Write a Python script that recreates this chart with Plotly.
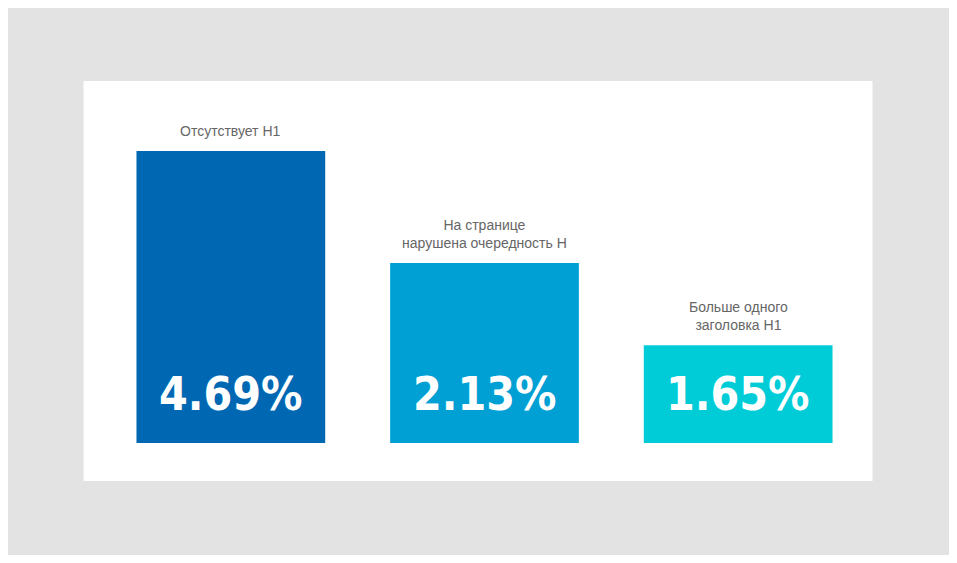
import plotly.graph_objects as go

# Categories, labels and values
categories = ["Отсутствует H1", "На странице<br>нарушена очередность H", "Больше одного<br>заголовка H1"]
value_labels = ["4.69%", "2.13%", "1.65%"]
# bar heights as drawn in the picture (not proportional to labels)
bar_heights = [4.69, 2.89, 1.57]
colors = ["#0068b3", "#00a0d5", "#00ccd8"]

x = list(range(len(categories)))

W, H = 941, 547
L, T, PW, PH = 95.5, 73, 762, 362

fig = go.Figure(go.Bar(
    x=x, y=bar_heights, marker_color=colors, marker_line_width=0,
    hoverinfo="skip",
))

# category labels above bars
for xi, h, cat in zip(x, bar_heights, categories):
    fig.add_annotation(x=xi, y=h, text=cat, showarrow=False, yanchor="bottom",
                       yshift=10, font=dict(family="Arial, Liberation Sans", size=14, color="#666666"))

# value labels inside bars
for xi, lab in zip(x, value_labels):
    fig.add_annotation(x=xi, y=0, text="<b>" + lab + "</b>", showarrow=False, yanchor="bottom",
                       yshift=20, font=dict(family="DejaVu Sans Condensed, Arial Narrow",
                                            size=46, color="white"))

# white panel (page offset 8px)
fig.add_shape(type="rect", xref="paper", yref="paper", layer="below",
              x0=(75 - L) / PW, x1=(865 - L) / PW,
              y0=(T + PH - 473) / PH, y1=(T + PH - 73) / PH,
              fillcolor="white", line_width=0)

fig.update_layout(
    width=W, height=H,
    paper_bgcolor="#e3e3e3", plot_bgcolor="rgba(0,0,0,0)",
    margin=dict(l=L, r=W - L - PW, t=T, b=H - T - PH),
    bargap=0.256, showlegend=False,
    xaxis=dict(range=[-0.5, 2.5], visible=False, fixedrange=True),
    yaxis=dict(range=[0, 5.814], visible=False, fixedrange=True),
)

fig.write_html("out.html")
